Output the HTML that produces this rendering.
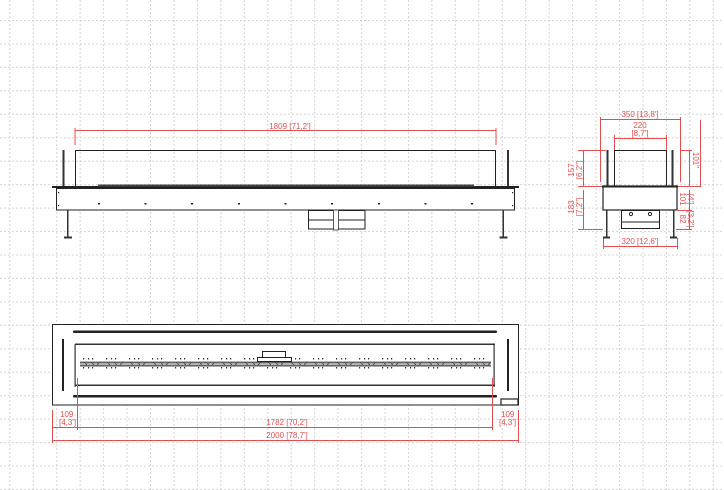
<!DOCTYPE html>
<html><head><meta charset="utf-8"><style>
html,body{margin:0;padding:0;background:#fff}
svg{display:block}
text{font-family:"Liberation Sans",sans-serif;fill:#e05050;font-size:8px}
</style></head><body>
<svg width="724" height="490" viewBox="0 0 724 490" xmlns="http://www.w3.org/2000/svg">
<defs>
<pattern id="gv" x="9.3" y="0" width="23.45" height="4" patternUnits="userSpaceOnUse">
<rect x="0" y="0" width="1" height="2" fill="#d4d4d4"/></pattern>
<pattern id="gh" x="0" y="20" width="4" height="23.45" patternUnits="userSpaceOnUse">
<rect x="0" y="0" width="2" height="1" fill="#d4d4d4"/></pattern>
<pattern id="burn" x="80" y="357" width="23" height="14" patternUnits="userSpaceOnUse">
<rect x="3" y="1" width="1.2" height="1.5" fill="#333"/><rect x="8" y="1" width="1.2" height="1.5" fill="#333"/><rect x="12" y="1" width="1.2" height="1.5" fill="#333"/>
<rect x="3" y="10" width="1.2" height="1.5" fill="#333"/><rect x="8" y="10" width="1.2" height="1.5" fill="#333"/><rect x="12" y="10" width="1.2" height="1.5" fill="#333"/>
<path d="M0 5h23M0 8h23M4 5l3 3M11 5l3 3M17 8l3-3" stroke="#444" stroke-width="0.8" fill="none"/>
</pattern>
</defs>
<rect width="724" height="490" fill="url(#gv)"/>
<rect width="724" height="490" fill="url(#gh)"/>

<!-- FRONT VIEW -->
<g stroke="#e05050" stroke-width="1" fill="none">
<path d="M75 130.5H496M75 128V145M496 128V145"/>
</g>
<text x="290" y="129" text-anchor="middle">1809 [71,2']</text>
<g stroke="#222" fill="none" stroke-width="1">
<rect x="75.5" y="150.5" width="420" height="36"/>
<rect x="56.5" y="188.5" width="458" height="21.5" fill="#fff"/>
<rect x="308.5" y="210.5" width="56.5" height="18.5" fill="#fff"/>
<path d="M308.5 220H365"/>
</g>
<rect x="62.5" y="150" width="2" height="36" fill="#333"/>
<rect x="507" y="150" width="2" height="36" fill="#333"/>
<rect x="52" y="186" width="467" height="2" fill="#222"/>
<rect x="98" y="184.5" width="376" height="2" fill="#444"/>
<rect x="333.5" y="210" width="5" height="20" fill="#fff" stroke="#333" stroke-width="0.8"/>
<rect x="67" y="210" width="1.5" height="27" fill="#333"/>
<rect x="502.5" y="210" width="1.5" height="27" fill="#333"/>
<rect x="64" y="236.5" width="8" height="2" fill="#333"/>
<rect x="499.5" y="236.5" width="8" height="2" fill="#333"/>
<g fill="#222">
<rect x="98" y="203" width="2" height="1.5"/><rect x="144.5" y="203" width="2" height="1.5"/><rect x="191" y="203" width="2" height="1.5"/>
<rect x="238" y="203" width="2" height="1.5"/><rect x="284.5" y="203" width="2" height="1.5"/><rect x="331" y="203" width="2" height="1.5"/>
<rect x="378" y="203" width="2" height="1.5"/><rect x="424.5" y="203" width="2" height="1.5"/><rect x="471" y="203" width="2" height="1.5"/>
<rect x="58" y="192" width="1.2" height="1.2"/><rect x="58" y="205" width="1.2" height="1.2"/>
<rect x="512" y="192" width="1.2" height="1.2"/><rect x="512" y="205" width="1.2" height="1.2"/>
</g>

<!-- SIDE VIEW -->
<g stroke="#e05050" stroke-width="1" fill="none">
<path d="M600 119.5H680M600.5 117V182M680.5 117V182"/>
<path d="M614 138.5H666M614.5 135V150M666.5 135V150"/>
<path d="M583.5 150V186M578 150.5H606M583.5 190V229M578 229.5H603"/>
<path d="M578 186.5H701"/>
<path d="M689.5 150V186M700.5 120V186M680 150.5H692"/>
<path d="M689.5 190V210M678 210.5H692M689.5 212V229M676 229.5H692"/>
<path d="M603 246.5H677M603.5 238V249M677.5 238V249"/>
</g>
<text x="640" y="117" text-anchor="middle">350 [13,8']</text>
<text x="640" y="128" text-anchor="middle">220</text>
<text x="640" y="136" text-anchor="middle">[8,7']</text>
<text x="640" y="244" text-anchor="middle">320 [12,6']</text>
<text transform="translate(574 170) rotate(-90)" text-anchor="middle">157</text>
<text transform="translate(582 170) rotate(-90)" text-anchor="middle">[6,2"]</text>
<text transform="translate(574 207) rotate(-90)" text-anchor="middle">183</text>
<text transform="translate(582 207) rotate(-90)" text-anchor="middle">[7,2"]</text>
<text transform="translate(693 160) rotate(90)" text-anchor="middle">101"</text>
<text transform="translate(680 199) rotate(90)" text-anchor="middle">101</text>
<text transform="translate(688 199) rotate(90)" text-anchor="middle">[4']</text>
<text transform="translate(680 219) rotate(90)" text-anchor="middle">82</text>
<text transform="translate(688 219) rotate(90)" text-anchor="middle">[3,2']</text>
<g stroke="#222" fill="none" stroke-width="1">
<rect x="614.5" y="150.5" width="52" height="36"/>
<rect x="621.5" y="210.5" width="38" height="18" fill="#fff"/>
<path d="M621.5 222H659.5"/>
<circle cx="631" cy="214" r="1.6"/><circle cx="650" cy="214" r="1.6"/>
</g>
<rect x="603" y="186" width="74" height="24" fill="#fff" stroke="#222" stroke-width="1.2"/>
<rect x="602" y="185.5" width="76" height="2" fill="#222"/>
<rect x="606.5" y="150" width="2" height="36" fill="#333"/>
<rect x="671.5" y="150" width="2" height="36" fill="#333"/>
<rect x="606" y="210" width="1.5" height="27" fill="#333"/>
<rect x="673" y="210" width="1.5" height="27" fill="#333"/>
<rect x="603" y="236.5" width="7" height="2" fill="#333"/>
<rect x="670" y="236.5" width="7" height="2" fill="#333"/>

<!-- TOP VIEW -->
<rect x="52.5" y="324.5" width="466" height="80.5" fill="#fff" stroke="#222" stroke-width="1"/>
<rect x="73" y="330.5" width="424" height="2.5" rx="1" fill="#222"/>
<rect x="73" y="395" width="424" height="2.5" rx="1" fill="#222"/>
<rect x="75" y="343.5" width="420" height="1.5" fill="#333"/>
<rect x="75" y="384.5" width="420" height="1.5" fill="#333"/>
<rect x="74.5" y="344" width="1.2" height="43" fill="#333"/>
<rect x="493.5" y="344" width="1.2" height="43" fill="#333"/>
<rect x="62" y="339" width="2" height="52" fill="#222"/>
<rect x="507" y="339" width="2" height="52" fill="#222"/>
<rect x="80" y="357" width="411" height="14" fill="url(#burn)"/>
<rect x="80" y="362.5" width="411" height="1" fill="#555"/>
<rect x="80" y="365.5" width="411" height="1" fill="#555"/>
<g stroke="#222" fill="#fff" stroke-width="1">
<rect x="262.5" y="351.5" width="23" height="6"/>
<rect x="257.5" y="357.5" width="34" height="4"/>
</g>
<rect x="501" y="399" width="17" height="6" fill="#fff" stroke="#222" stroke-width="1.2"/>
<g stroke="#e05050" stroke-width="1" fill="none">
<path d="M77.5 378V430M492.5 378V430"/>
<path d="M52.5 410V443M518.5 410V443"/>
<path d="M53 427.5H492M53 440.5H518"/>
</g>
<text x="60" y="417">109</text>
<text x="59" y="425">[4,3']</text>
<text x="501" y="417">109</text>
<text x="499" y="425">[4,3']</text>
<text x="287" y="425" text-anchor="middle">1782 [70,2']</text>
<text x="287" y="438" text-anchor="middle">2000 [78,7']</text>
</svg>
</body></html>
